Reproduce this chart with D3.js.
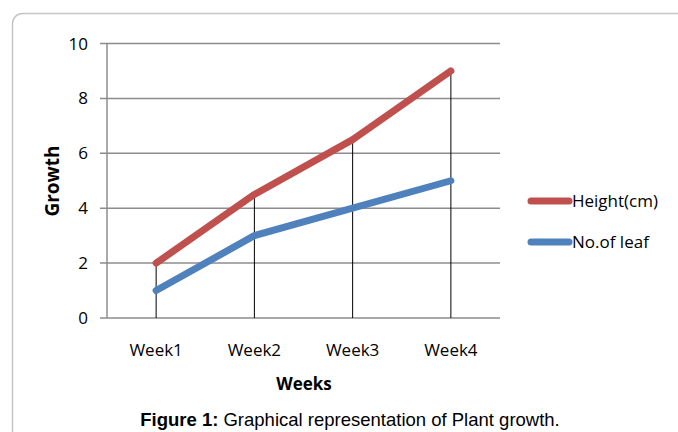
<!DOCTYPE html>
<html lang="en">
<head>
<meta charset="UTF-8">
<title>Plant growth</title>
<script src="https://cdn.jsdelivr.net/npm/d3@7/dist/d3.min.js"></script>
<style>
  body { margin: 0; background: #fff; overflow: hidden; }
  svg { display: block; }
  text { font-family: "Open Sans", "Noto Sans", sans-serif; }
</style>
</head>
<body>
<svg width="678" height="432" id="mainsvg"></svg>
<script>
const weeks = ['Week1', 'Week2', 'Week3', 'Week4']
const heightCm = [2, 4.5, 6.5, 9]
const noOfLeaf = [1, 3, 4, 5]
const yTicks = [0, 2, 4, 6, 8, 10]

const svg = d3.select('#mainsvg')
const margin = {top: 43.5, left: 107, right: 178, bottom: 114}
const innerWidth = 678 - margin.left - margin.right
const innerHeight = 432 - margin.top - margin.bottom

// outer frame (only left and top edges are visible in the picture)
svg.append('path')
  .attr('d', 'M12.5,432 V23.5 A10,10 0 0 1 22.5,13.5 H678')
  .attr('fill', 'none').attr('stroke', '#c4c4c4').attr('stroke-width', 1.5)

// scales in page coordinates
const xScale = d3.scaleBand().domain(weeks).range([margin.left, margin.left + innerWidth])
const yScale = d3.scaleLinear().domain([0, 10]).range([margin.top + innerHeight, margin.top])
const xPos = d => xScale(d) + xScale.bandwidth() / 2
const x0 = margin.left, x1 = margin.left + innerWidth, yBase = yScale(0)

// gridlines and y labels
yTicks.forEach(t => {
  svg.append('line')
    .attr('x1', x0 - 7).attr('x2', x1)
    .attr('y1', yScale(t)).attr('y2', yScale(t))
    .attr('stroke', '#8c8c8c').attr('stroke-width', 1.5)
  svg.append('text')
    .attr('x', x0 - 19).attr('y', yScale(t) + 6)
    .attr('text-anchor', 'end')
    .attr('font-size', 17)
    .text(String(t))
})

svg.append('line')
  .attr('x1', x0).attr('x2', x0).attr('y1', yScale(10)).attr('y2', yBase)
  .attr('stroke', '#8c8c8c').attr('stroke-width', 1.5)

// x labels and drop lines
weeks.forEach((w, i) => {
  svg.append('text')
    .attr('x', xPos(w)).attr('y', yBase + 38)
    .attr('text-anchor', 'middle')
    .attr('font-size', 17)
    .text(w)
  svg.append('line')
    .attr('x1', xPos(w)).attr('x2', xPos(w))
    .attr('y1', yScale(heightCm[i])).attr('y2', yBase)
    .attr('stroke', '#000').attr('stroke-width', 1)
})

const series = [
  {name: 'Height(cm)', values: heightCm, color: '#c0504d'},
  {name: 'No.of leaf', values: noOfLeaf, color: '#4f81bd'}
]

const line = d3.line()
  .x((d, i) => xPos(weeks[i]))
  .y(d => yScale(d))

series.forEach(s => {
  svg.append('path').datum(s.values)
    .attr('d', line)
    .attr('fill', 'none')
    .attr('stroke', s.color)
    .attr('stroke-width', 7)
    .attr('stroke-linecap', 'round')
    .attr('stroke-linejoin', 'round')
})

// legend
series.forEach((s, i) => {
  const y = 201 + i * 41
  svg.append('line')
    .attr('x1', 531).attr('x2', 569).attr('y1', y).attr('y2', y)
    .attr('stroke', s.color).attr('stroke-width', 7).attr('stroke-linecap', 'round')
  svg.append('text')
    .attr('x', 572).attr('y', y + 6)
    .attr('font-size', 17)
    .text(s.name)
})

// axis titles
svg.append('text')
  .attr('transform', 'translate(59,181) rotate(-90)')
  .attr('text-anchor', 'middle')
  .attr('font-size', 19).attr('font-weight', 'bold')
  .text('Growth')

svg.append('text')
  .attr('x', 304).attr('y', 390)
  .attr('text-anchor', 'middle')
  .attr('font-size', 17).attr('font-weight', 'bold')
  .text('Weeks')

// caption
const cap = svg.append('text')
  .attr('x', 350).attr('y', 426)
  .attr('text-anchor', 'middle')
  .attr('font-size', 18.5)
  .style('font-family', '"Liberation Sans", Arial, sans-serif')
cap.append('tspan').attr('font-weight', 'bold').text('Figure 1:')
cap.append('tspan').text(' Graphical representation of Plant growth.')
</script>
</body>
</html>
